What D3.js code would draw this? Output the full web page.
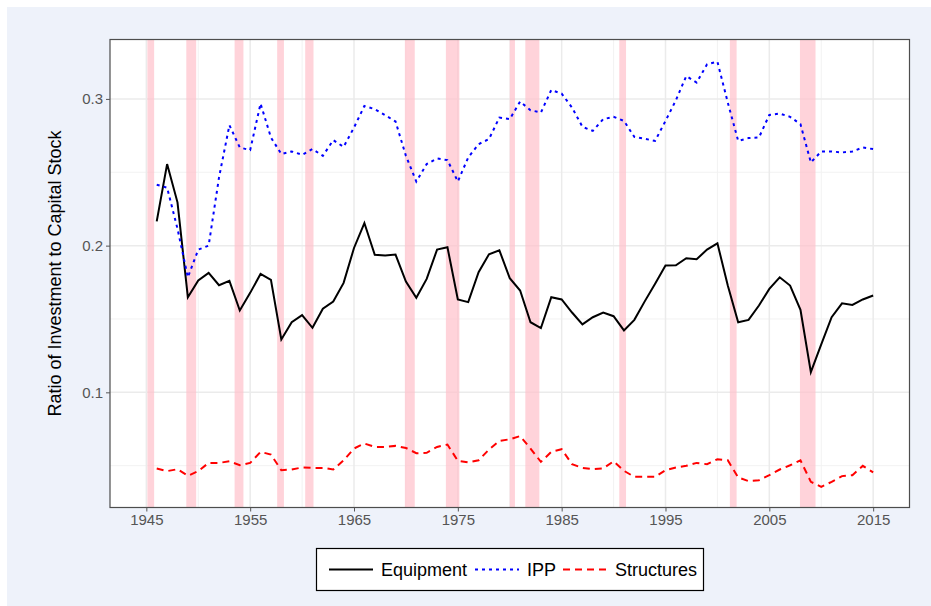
<!DOCTYPE html>
<html>
<head>
    <meta charset="utf-8">
    <script src="https://d3js.org/d3.v7.min.js"></script>
    <style>
        body { margin: 0; background: #ffffff; }
        svg { display: block; font-family: "Liberation Sans", Arial, sans-serif; }
    </style>
</head>
<body>
    <svg id="chart"></svg>

    <script>
        // Years shown for every series
        const years = d3.range(1946, 2016);

        // Ratio of investment to capital stock
        const equipment = [
            0.2165, 0.2556, 0.2295, 0.1648, 0.1762, 0.1814, 0.1730, 0.1760, 0.1558, 0.1678,
            0.1807, 0.1767, 0.1360, 0.1478, 0.1526, 0.1440, 0.1570, 0.1619, 0.1746, 0.1984,
            0.2154, 0.1937, 0.1932, 0.1939, 0.1755, 0.1644, 0.1773, 0.1973, 0.1989, 0.1633,
            0.1615, 0.1819, 0.1941, 0.1968, 0.1778, 0.1694, 0.1478, 0.1438, 0.1648, 0.1633,
            0.1544, 0.1463, 0.1512, 0.1544, 0.1519, 0.1422, 0.1494, 0.1620, 0.1740, 0.1864,
            0.1866, 0.1914, 0.1907, 0.1973, 0.2016, 0.1728, 0.1478, 0.1494, 0.1592, 0.1705,
            0.1784, 0.1728, 0.1563, 0.1138, 0.1327, 0.1512, 0.1607, 0.1596, 0.1633, 0.1660
        ];
        const ipp = [
            0.2415, 0.2395, 0.2115, 0.1784, 0.1973, 0.2000, 0.2465, 0.2821, 0.2669, 0.2651,
            0.2968, 0.2737, 0.2624, 0.2642, 0.2619, 0.2658, 0.2612, 0.2719, 0.2673, 0.2805,
            0.2952, 0.2930, 0.2889, 0.2846, 0.2612, 0.2437, 0.2556, 0.2594, 0.2583, 0.2437,
            0.2601, 0.2692, 0.2726, 0.2873, 0.2862, 0.2982, 0.2923, 0.2907, 0.3061, 0.3036,
            0.2941, 0.2810, 0.2782, 0.2862, 0.2878, 0.2850, 0.2741, 0.2728, 0.2714, 0.2850,
            0.2991, 0.3156, 0.3111, 0.3236, 0.3254, 0.2975, 0.2714, 0.2733, 0.2737, 0.2891,
            0.2900, 0.2878, 0.2828, 0.2567, 0.2642, 0.2642, 0.2635, 0.2642, 0.2669, 0.2658
        ];
        const structures = [
            0.0481, 0.0463, 0.0476, 0.0431, 0.0463, 0.0519, 0.0519, 0.0530, 0.0503, 0.0519,
            0.0594, 0.0576, 0.0469, 0.0474, 0.0488, 0.0485, 0.0485, 0.0474, 0.0537, 0.0617,
            0.0651, 0.0628, 0.0628, 0.0635, 0.0621, 0.0585, 0.0588, 0.0628, 0.0644, 0.0533,
            0.0522, 0.0537, 0.0610, 0.0669, 0.0680, 0.0702, 0.0617, 0.0526, 0.0594, 0.0612,
            0.0510, 0.0485, 0.0476, 0.0481, 0.0530, 0.0465, 0.0424, 0.0424, 0.0424, 0.0469,
            0.0488, 0.0499, 0.0519, 0.0510, 0.0544, 0.0537, 0.0420, 0.0395, 0.0401, 0.0435,
            0.0474, 0.0503, 0.0537, 0.0390, 0.0356, 0.0390, 0.0429, 0.0435, 0.0499, 0.0454
        ];

        // NBER recessions (start, end) in fractional years
        const recessionStart = [1945.1, 1948.85, 1953.5, 1957.6, 1960.3, 1969.9, 1973.85, 1980.0, 1981.5, 1990.55, 2001.2, 2007.95];
        const recessionEnd   = [1945.75, 1949.8, 1954.35, 1958.25, 1961.1, 1970.85, 1975.15, 1980.5, 1982.85, 1991.2, 2001.85, 2009.45];

        const xTicks = [1945, 1955, 1965, 1975, 1985, 1995, 2005, 2015];
        const yTicks = [0.1, 0.2, 0.3];

        const seriesNames = ["Equipment", "IPP", "Structures"];
        const seriesValues = [equipment, ipp, structures];
        const seriesColors = ["#000000", "#0000ff", "#ff0000"];
        const seriesDash = [null, "3,4", "7,5"];

        // Sizes
        const width = 931;
        const height = 606;
        const panel = { left: 110, right: 909.5, top: 39.5, bottom: 507.5 };

        const svg = d3.select("#chart")
            .attr("width", width)
            .attr("height", height);

        // light blue page background
        svg.append("rect")
            .attr("x", 7).attr("y", 7)
            .attr("width", width - 7).attr("height", height - 7)
            .attr("fill", "#eef2fa");

        const x = d3.scaleLinear()
            .domain([1941.5, 2018.5])
            .range([panel.left, panel.right]);

        const y = d3.scaleLinear()
            .domain([0.0215, 0.3405])
            .range([panel.bottom, panel.top]);

        // white panel
        svg.append("rect")
            .attr("x", panel.left).attr("y", panel.top)
            .attr("width", panel.right - panel.left)
            .attr("height", panel.bottom - panel.top)
            .attr("fill", "#ffffff");

        // grid lines, major and minor
        const grid = svg.append("g");
        const xMinor = xTicks.map(d => d + 5).filter(d => x(d) < panel.right);
        const yMinor = [0.05, 0.15, 0.25];

        grid.selectAll(".vminor").data(xMinor).enter().append("line")
            .attr("x1", d => x(d)).attr("x2", d => x(d))
            .attr("y1", panel.top).attr("y2", panel.bottom)
            .attr("stroke", "#f2f2f2").attr("stroke-width", 1);
        grid.selectAll(".hminor").data(yMinor).enter().append("line")
            .attr("x1", panel.left).attr("x2", panel.right)
            .attr("y1", d => y(d)).attr("y2", d => y(d))
            .attr("stroke", "#f2f2f2").attr("stroke-width", 1);
        grid.selectAll(".vmajor").data(xTicks).enter().append("line")
            .attr("x1", d => x(d)).attr("x2", d => x(d))
            .attr("y1", panel.top).attr("y2", panel.bottom)
            .attr("stroke", "#ebebeb").attr("stroke-width", 1.5);
        grid.selectAll(".hmajor").data(yTicks).enter().append("line")
            .attr("x1", panel.left).attr("x2", panel.right)
            .attr("y1", d => y(d)).attr("y2", d => y(d))
            .attr("stroke", "#ebebeb").attr("stroke-width", 1.5);

        // recession shading
        svg.append("g").selectAll("rect")
            .data(recessionStart)
            .enter()
            .append("rect")
            .attr("x", d => x(d))
            .attr("width", (d, i) => x(recessionEnd[i]) - x(d))
            .attr("y", panel.top)
            .attr("height", panel.bottom - panel.top)
            .attr("fill", "#ffc0cb")
            .attr("fill-opacity", 0.7);

        // the three lines
        const line = d3.line()
            .x((d, i) => x(years[i]))
            .y(d => y(d));

        svg.append("g").selectAll("path")
            .data(seriesValues)
            .enter()
            .append("path")
            .attr("d", d => line(d))
            .attr("fill", "none")
            .attr("stroke", (d, i) => seriesColors[i])
            .attr("stroke-width", 2)
            .attr("stroke-dasharray", (d, i) => seriesDash[i]);

        // panel border
        svg.append("rect")
            .attr("x", panel.left).attr("y", panel.top)
            .attr("width", panel.right - panel.left)
            .attr("height", panel.bottom - panel.top)
            .attr("fill", "none")
            .attr("stroke", "#4d4d4d")
            .attr("stroke-width", 1.2);

        // axes
        const xAxis = svg.append("g")
            .attr("transform", `translate(0,${panel.bottom})`)
            .call(d3.axisBottom(x).tickValues(xTicks).tickFormat(d3.format("d")).tickSize(4).tickPadding(3));
        const yAxis = svg.append("g")
            .attr("transform", `translate(${panel.left},0)`)
            .call(d3.axisLeft(y).tickValues(yTicks).tickFormat(d3.format(".1f")).tickSize(4).tickPadding(3));

        [xAxis, yAxis].forEach(g => {
            g.select(".domain").remove();
            g.selectAll(".tick line").attr("stroke", "#555555");
            g.selectAll(".tick text")
                .attr("fill", "#555555")
                .style("font-size", "15px")
                .style("font-family", "'Liberation Sans', Arial, sans-serif");
        });

        // y axis title
        svg.append("text")
            .attr("transform", `translate(61,${(panel.top + panel.bottom) / 2}) rotate(-90)`)
            .attr("text-anchor", "middle")
            .style("font-size", "18px")
            .attr("fill", "#000000")
            .text("Ratio of Investment to Capital Stock");

        // legend
        const legend = svg.append("g");
        legend.append("rect")
            .attr("x", 316.5).attr("y", 548.5)
            .attr("width", 387).attr("height", 42)
            .attr("fill", "#ffffff")
            .attr("stroke", "#000000")
            .attr("stroke-width", 1.2);

        const legendLineX = [329, 475, 563];
        const legendTextX = [381, 527, 615];
        const legendY = 569.5;

        seriesNames.forEach((name, i) => {
            legend.append("line")
                .attr("x1", legendLineX[i]).attr("x2", legendLineX[i] + 44)
                .attr("y1", legendY).attr("y2", legendY)
                .attr("stroke", seriesColors[i])
                .attr("stroke-width", 2)
                .attr("stroke-dasharray", seriesDash[i]);
            legend.append("text")
                .attr("x", legendTextX[i]).attr("y", legendY)
                .attr("dy", "0.35em")
                .style("font-size", "18px")
                .attr("fill", "#000000")
                .text(name);
        });
    </script>
</body>
</html>
